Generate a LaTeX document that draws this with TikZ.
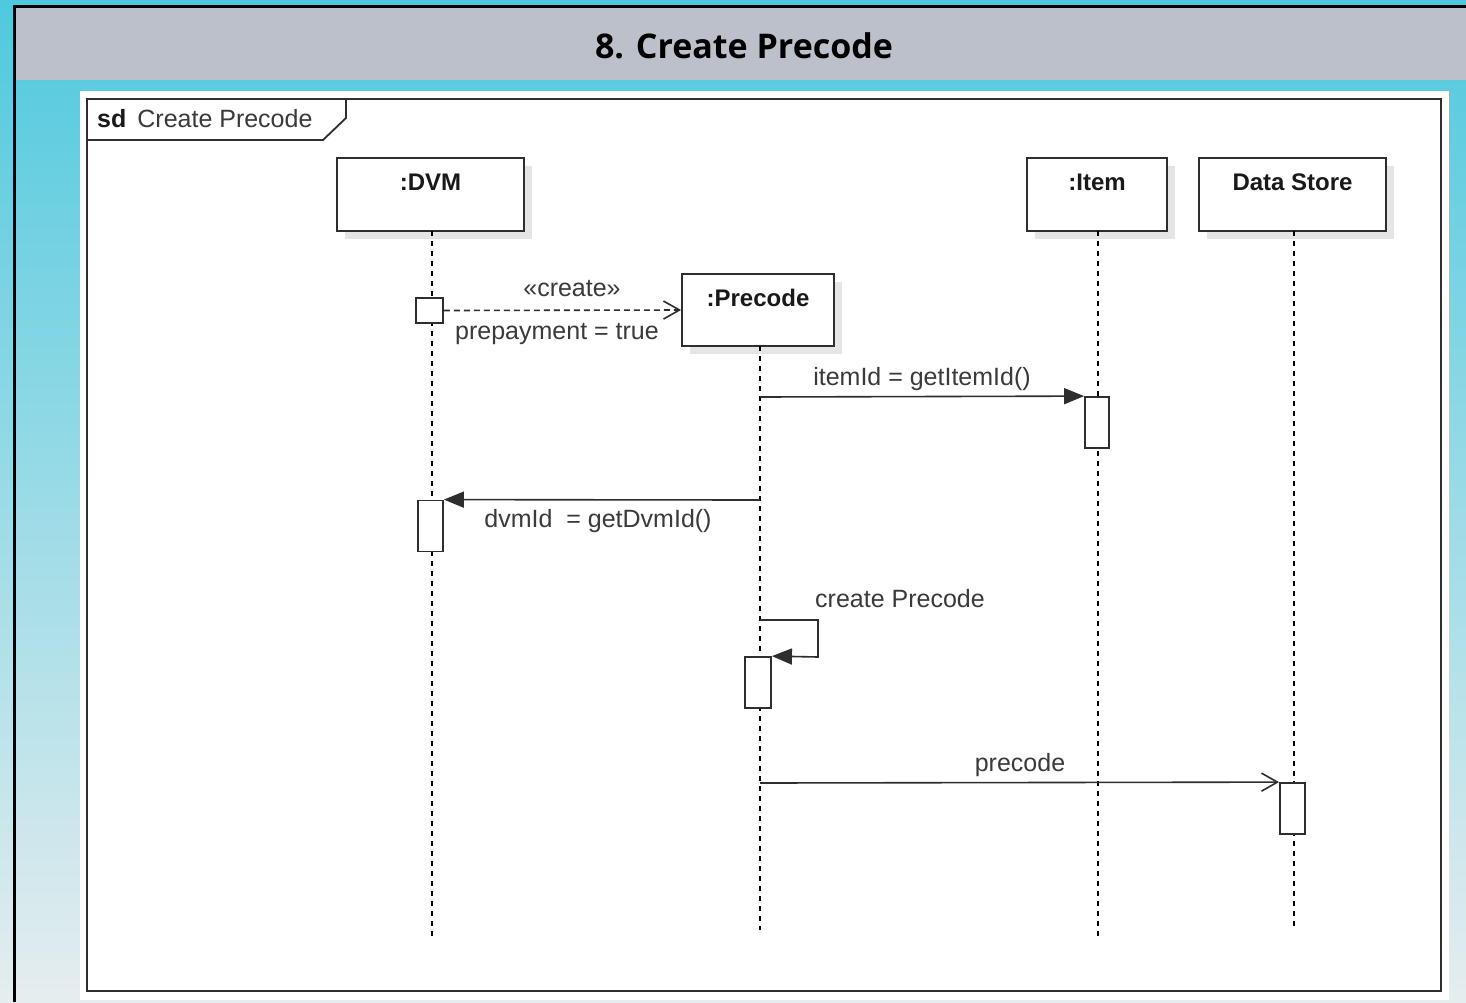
\documentclass[tikz,border=0pt]{standalone}
\usepackage{fontspec}
\setmainfont{Liberation Sans}
\newfontfamily\titlefont{Open Sans}
\usetikzlibrary{arrows.meta,shadows}

\definecolor{bgtop}{HTML}{4FC9DE}
\definecolor{bgbot}{HTML}{E6EDEF}
\definecolor{barcol}{HTML}{BCC0CA}
\definecolor{ink}{HTML}{2E2E2E}
\definecolor{txt}{HTML}{3A3A3A}

\begin{document}
\begin{tikzpicture}[x=1pt,y=-1pt,
  every node/.style={font=\fontsize{25}{29}\selectfont, text=txt},
  objbox/.style={draw=ink, line width=1.8pt, fill=white, inner sep=0pt,
    minimum height=73pt,
    drop shadow={shadow xshift=8pt, shadow yshift=-8pt, fill=black!10, opacity=1}},
  objname/.style={anchor=base, yshift=-33pt, inner sep=0pt,
    font=\fontsize{24}{28}\selectfont\bfseries, text=black!90},
  lifeline/.style={draw=black, line width=1.8pt, dash pattern=on 5pt off 5pt},
  actbox/.style={draw=ink, line width=1.8pt, fill=white, inner sep=0pt,
    minimum width=25pt, minimum height=51pt},
  msg/.style={draw=ink, line width=1.6pt},
  syncmsg/.style={msg, -{Triangle[length=20pt,width=16pt]}},
  openmsg/.style={msg, -{Straight Barb[length=16pt,width=18pt,line width=1.6pt]}},
  msglabel/.style={anchor=base, inner sep=0pt}
]
\useasboundingbox (0,0) rectangle (1466,1002);

% backdrop
\shade[top color=bgtop, bottom color=bgbot] (0,0) rectangle (1466,1002);
\fill[barcol] (16,8) rectangle (1466,80);
\draw[black, line width=3pt] (14.5,1002) -- (14.5,6.5) -- (1466,6.5);
\node[anchor=base, inner sep=0pt, text=black,
  font=\titlefont\bfseries\fontsize{34}{40}\selectfont] (title) at (744,58) {8. Create Precode};

% white sheet and diagram frame
\fill[white] (80,91) rectangle (1449,1000);
\draw[ink, line width=2.2pt] (87,99) rectangle (1441,991);
\draw[ink, line width=1.8pt] (87,140) -- (323,140) -- (346,118) -- (346,99);
\node[anchor=base west, inner sep=0pt] (sdname) at (97,127)
  {{\bfseries\color{black!90}sd}\hspace{11pt}Create Precode};

% participants
\node[objbox, minimum width=187pt, label={[objname]north::DVM}] (dvm) at (430.5,194.5) {};
\node[objbox, minimum width=140pt, label={[objname]north::Item}] (item) at (1097,194.5) {};
\node[objbox, minimum width=187pt, label={[objname]north:Data Store}] (ds) at (1292.5,194.5) {};
\node[objbox, minimum width=152pt, minimum height=72pt, label={[objname]north::Precode}] (prec) at (758,310) {};

% lifelines
\coordinate (dvmTop) at (432,231);   \coordinate (dvmEnd) at (432,940);
\coordinate (precTop) at (760,346);  \coordinate (precEnd) at (760,930);
\coordinate (itemTop) at (1098,231); \coordinate (itemEnd) at (1098,940);
\coordinate (dsTop) at (1294,231);   \coordinate (dsEnd) at (1294,930);
\draw[lifeline] (dvmTop) -- (dvmEnd);
\draw[lifeline] (precTop) -- (precEnd);
\draw[lifeline] (itemTop) -- (itemEnd);
\draw[lifeline] (dsTop) -- (dsEnd);

% execution occurrences
\node[actbox, minimum width=27pt, minimum height=25pt] (sq) at (429.5,310.5) {};
\node[actbox, minimum width=24pt] (actItem) at (1097,422.5) {};
\node[actbox] (actDvm) at (430.5,526) {};
\node[actbox, minimum width=26pt] (actSelf) at (758,682.5) {};
\node[actbox] (actDs) at (1292.5,808.5) {};

% create message
\draw[openmsg, dashed, dash pattern=on 6pt off 4pt] (sq.east) -- (prec.west);
\node[msglabel] (lcreate) at (572,296) {«create»};
\node[msglabel] (lprepay) at (557,339) {prepayment = true};

% itemId = getItemId()
\coordinate (m1) at (760,397);
\draw[syncmsg] (m1) -- (actItem.north west);
\node[msglabel] (litem) at (922,385) {itemId = getItemId()};

% dvmId = getDvmId()
\coordinate (m2) at (760,500);
\draw[syncmsg] (m2) -- (actDvm.north east);
\node[msglabel] (ldvm) at (598,527) {dvmId\ \ = getDvmId()};

% self call
\coordinate (m3) at (760,620);
\coordinate (loopA) at (818,620);
\coordinate (loopB) at (818,657);
\draw[syncmsg] (m3) -- (loopA) -- (loopB) -- (actSelf.north east);
\node[msglabel] (lself) at (900,607) {create Precode};

% precode
\coordinate (m4) at (760,783);
\draw[openmsg] (m4) -- (actDs.north west);
\node[msglabel] (lprec) at (1020,771) {precode};
\end{tikzpicture}
\end{document}
